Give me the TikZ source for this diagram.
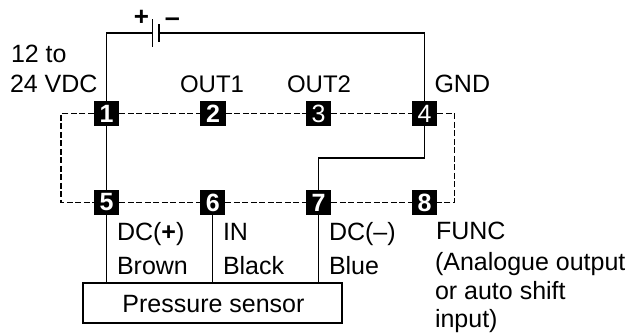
\documentclass[tikz,border=0pt]{standalone}
\usepackage{fontspec}
\setmainfont{Liberation Sans}
\begin{document}
\begin{tikzpicture}[x=1pt,y=-1pt,
  every node/.style={inner sep=0pt,outer sep=0pt},
  term/.style={fill=black,text=white,minimum width=25.5pt,minimum height=25.5pt,font=\fontsize{25}{25}\selectfont\bfseries},
  termr/.style={fill=black,text=white,minimum width=25.5pt,minimum height=25.5pt,font=\fontsize{25}{25}\selectfont},
  lbl/.style={anchor=base west,text=black,font=\fontsize{25}{25}\selectfont},
  wire/.style={draw=black,line width=1.5pt},
  dashline/.style={draw=black,line width=1.25pt,dash pattern=on 6pt off 2.5pt}]
\useasboundingbox (0,0) rectangle (628,333);
\coordinate (tl) at (106.5,33);
\coordinate (tr) at (424.5,33);
\coordinate (bat1) at (152.5,33);
\coordinate (bat2) at (159,33);
\coordinate (p1a) at (152.5,19);
\coordinate (p1b) at (152.5,47);
\coordinate (p2a) at (159,24);
\coordinate (p2b) at (159,42);
\coordinate (dtl) at (61,113.7);
\coordinate (dbl) at (61,202.5);
\coordinate (dtr) at (454.7,113.7);
\coordinate (dbr) at (454.7,202.5);
\coordinate (j1) at (424.5,158);
\coordinate (j2) at (318.5,158);
\node[draw=black,line width=1.4pt,minimum width=259pt,minimum height=40pt] (sensor) at (212.5,303) {};
\node[anchor=base,text=black,font=\fontsize{25}{25}\selectfont] (stext) at (213.5,312) {Pressure sensor};
\node[term] (t1) at (106.5,113.7) {1};
\node[term] (t2) at (213,113.7) {2};
\node[termr] (t3) at (318.5,113.7) {3};
\node[termr] (t4) at (424.5,113.7) {4};
\node[term] (t5) at (106.5,202.5) {5};
\node[term] (t6) at (212.7,202.5) {6};
\node[term] (t7) at (318.5,202.5) {7};
\node[term] (t8) at (424.5,202.5) {8};
\draw[dashline] (t1.west) -- (dtl) -- (dbl) -- (t5.west);
\draw[dashline] (t1.east) -- (t2.west);
\draw[dashline] (t2.east) -- (t3.west);
\draw[dashline] (t3.east) -- (t4.west);
\draw[dashline] (t5.east) -- (t6.west);
\draw[dashline] (t6.east) -- (t7.west);
\draw[dashline] (t7.east) -- (t8.west);
\draw[dashline] (t4.east) -- (dtr) -- (dbr) -- (t8.east);
\draw[wire] (t1.north) -- (tl) -- (bat1);
\draw[wire] (bat2) -- (tr) -- (t4.north);
\draw[wire] (p1a) -- (p1b);
\draw[wire] (p2a) -- (p2b);
\draw[wire] (t1.south) -- (t5.north);
\draw[wire] (t4.south) -- (j1) -- (j2) -- (t7.north);
\draw[wire] (t5.south) -- (t5 |- sensor.north);
\draw[wire] (t6.south) -- (t6 |- sensor.north);
\draw[wire] (t7.south) -- (t7 |- sensor.north);
\node[anchor=center,font=\fontsize{26}{26}\selectfont\bfseries] (plus) at (141.5,17.5) {+};
\node[anchor=center,font=\fontsize{27}{27}\selectfont\bfseries] (minus) at (172.5,22) {–};
\node[lbl] (l12) at (11,62) {12 to};
\node[lbl] (l24) at (10,92) {24 VDC};
\node[lbl,font=\fontsize{24}{24}\selectfont] (o1) at (180,92) {OUT1};
\node[lbl,font=\fontsize{24}{24}\selectfont] (o2) at (287,92) {OUT2};
\node[lbl] (gnd) at (434.5,92) {GND};
\node[lbl] (dcp) at (117,240) {DC(\textbf{+})};
\node[lbl] (br) at (117,274) {Brown};
\node[lbl] (in) at (223,240) {IN};
\node[lbl] (bk) at (223,274) {Black};
\node[lbl] (dcm) at (329,240) {DC(–)};
\node[lbl] (bl) at (329,274) {Blue};
\node[lbl] (fn) at (436,239) {FUNC};
\node[lbl] (an) at (435,270) {(Analogue output};
\node[lbl] (au) at (435,299) {or auto shift};
\node[lbl] (ip) at (435,327) {input)};
\end{tikzpicture}
\end{document}
